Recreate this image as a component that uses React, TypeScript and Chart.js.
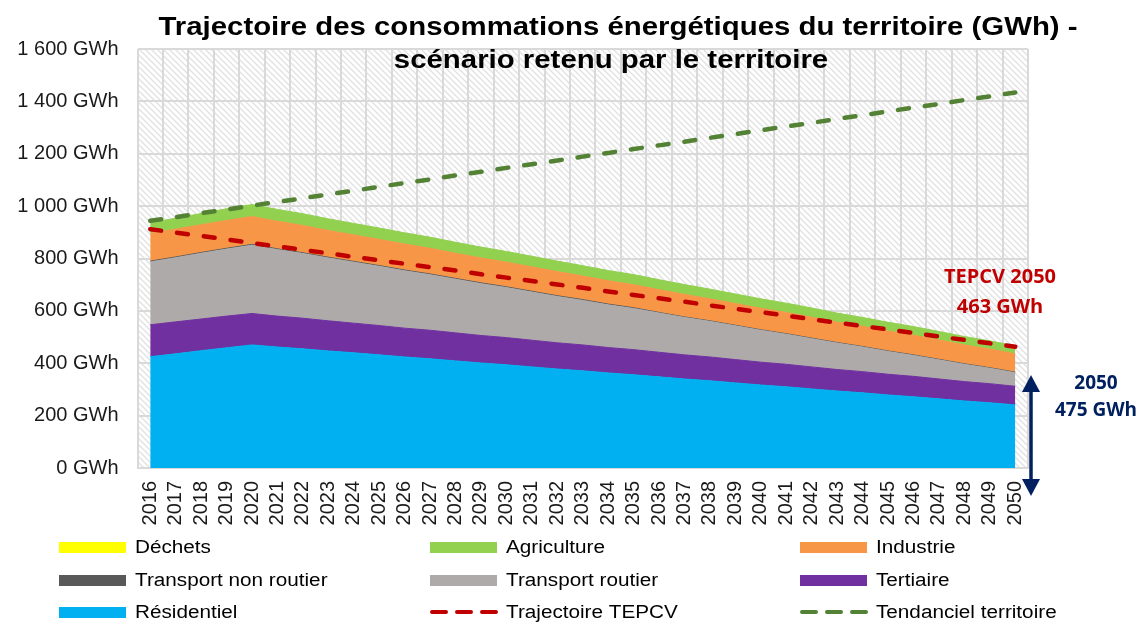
import React, { useEffect, useRef } from 'react';
import { Chart, registerables } from 'chart.js';

Chart.register(...registerables);

const years = ['2016','2017','2018','2019','2020','2021','2022','2023','2024','2025','2026','2027','2028','2029','2030','2031','2032','2033','2034','2035','2036','2037','2038','2039','2040','2041','2042','2043','2044','2045','2046','2047','2048','2049','2050'];

const residentiel = [425,436,448,459,470,462,455,447,440,432,424,417,409,401,394,386,378,371,363,356,348,340,333,325,317,310,302,294,287,279,272,264,256,249,241];
const tertiaire = [122,122,121,121,120,118,117,115,113,112,110,109,107,105,104,102,100,99,97,96,94,92,91,89,87,86,84,82,81,79,78,76,74,73,71];
const transportRoutier = [240,245,251,256,261,254,247,240,233,226,219,212,205,198,191,184,177,170,163,157,150,143,136,129,122,115,108,101,94,87,80,73,66,59,52];
const transportNonRoutier = [3,3,3,3,3,3,3,3,3,3,3,3,3,3,3,3,3,3,3,3,2,2,2,2,2,2,2,2,2,2,2,2,2,2,2];
const industrie = [106,106,106,106,106,105,104,102,101,100,99,98,96,95,94,93,92,90,89,88,87,86,84,83,82,81,80,78,77,76,75,74,72,71,70];
const agriculture = [40,42,43,45,46,45.5,45,44.5,44,43.5,43,42.5,42,41.5,41,40.5,40,39.5,39,38.5,38,37.5,37,36.5,36,35.5,35,34.5,34,33.5,33,32.5,32,31.5,31];
const dechets = [0,0,0,0,0,0,0,0,0,0,0,0,0,0,0,0,0,0,0,0,0,0,0,0,0,0,0,0,0,0,0,0,0,0,0];
const trajectoireTEPCV = [912,899,886,873,859,846,833,820,806,793,780,767,754,740,727,714,701,688,674,661,648,635,621,608,595,582,568,555,542,529,516,502,489,476,463];
const tendanciel = [944,958,973,987,1002,1016,1030,1045,1059,1074,1088,1102,1117,1131,1146,1160,1174,1189,1203,1218,1232,1246,1261,1275,1290,1304,1318,1333,1347,1362,1376,1390,1405,1419,1434];

const titleLines = ['Trajectoire des consommations énergétiques du territoire (GWh) -', 'scénario retenu par le territoire'];
const tepcvNote = ['TEPCV 2050', '463 GWh'];
const totalNote = ['2050', '475 GWh'];

const FONT = '"Liberation Sans", Arial, sans-serif';

function fmt(v: number): string {
  if (v >= 1000) {
    return Math.floor(v / 1000) + ' ' + String(v % 1000).padStart(3, '0') + ' GWh';
  }
  return v + ' GWh';
}

function txt(ctx: CanvasRenderingContext2D, s: string, x: number, y: number, font: string, color: string, align: CanvasTextAlign, sx = 1, baseline: CanvasTextBaseline = 'alphabetic') {
  ctx.save();
  ctx.font = font;
  ctx.fillStyle = color;
  ctx.textAlign = align;
  ctx.textBaseline = baseline;
  ctx.translate(x, y);
  ctx.scale(sx, 1);
  ctx.fillText(s, 0, 0);
  ctx.restore();
}

const customPlugin = {
  id: 'customDecor',
  beforeDraw(chart: any) {
    const { ctx, chartArea: a } = chart;
    ctx.save();
    ctx.fillStyle = '#ffffff';
    ctx.fillRect(0, 0, chart.width, chart.height);
    const p = document.createElement('canvas');
    p.width = 6;
    p.height = 6;
    const pc = p.getContext('2d')!;
    pc.fillStyle = '#ffffff';
    pc.fillRect(0, 0, 6, 6);
    pc.strokeStyle = '#e2e2e2';
    pc.lineWidth = 1.4;
    pc.beginPath();
    pc.moveTo(-1, -1); pc.lineTo(7, 7);
    pc.moveTo(-1, 5); pc.lineTo(1, 7);
    pc.moveTo(5, -1); pc.lineTo(7, 1);
    pc.stroke();
    const pat = ctx.createPattern(p, 'repeat');
    ctx.fillStyle = pat;
    ctx.fillRect(a.left, a.top, a.right - a.left, a.bottom - a.top);
    ctx.restore();
  },
  afterDraw(chart: any) {
    const ctx: CanvasRenderingContext2D = chart.ctx;
    // Title
    txt(ctx, titleLines[0], 618, 35, 'bold 26px ' + FONT, '#000000', 'center', 1.13);
    txt(ctx, titleLines[1], 611, 68, 'bold 26px ' + FONT, '#000000', 'center', 1.13);

    // Legend
    const ds = chart.data.datasets;
    const order = [6, 5, 4, 3, 2, 1, 0, 7, 8];
    const colX = [59, 430, 800];
    const rowY = [547, 580, 612];
    order.forEach((di, k) => {
      const d = ds[di];
      const cx = colX[k % 3];
      const cy = rowY[Math.floor(k / 3)];
      ctx.save();
      if (d.fill === false) {
        ctx.strokeStyle = d.borderColor;
        ctx.lineWidth = 4;
        ctx.lineCap = 'round';
        ctx.beginPath();
        for (let j = 0; j < 3; j++) {
          const sx = cx + 2 + j * 25;
          ctx.moveTo(sx, cy);
          ctx.lineTo(sx + 14, cy);
        }
        ctx.stroke();
      } else {
        ctx.fillStyle = d.backgroundColor;
        ctx.fillRect(cx, cy - 5, 67, 11);
      }
      ctx.restore();
      txt(ctx, d.label, cx + 76, cy + 1, '18px ' + FONT, '#000000', 'left', 1.15, 'middle');
    });

    // Annotations
    const noteFont = 'bold 20px "Open Sans", "DejaVu Sans", sans-serif';
    txt(ctx, tepcvNote[0], 1000, 283, noteFont, '#C00000', 'center');
    txt(ctx, tepcvNote[1], 1000, 313, noteFont, '#C00000', 'center');
    const navyFont = 'bold 19px "Open Sans", "DejaVu Sans", sans-serif';
    txt(ctx, totalNote[0], 1096, 389, navyFont, '#002060', 'center');
    txt(ctx, totalNote[1], 1096, 416, navyFont, '#002060', 'center');

    // Double arrow
    const ax = 1031;
    const top = 375;
    const bot = 496;
    ctx.save();
    ctx.fillStyle = '#002060';
    ctx.strokeStyle = '#002060';
    ctx.lineWidth = 3.5;
    ctx.beginPath();
    ctx.moveTo(ax, top + 12);
    ctx.lineTo(ax, bot - 12);
    ctx.stroke();
    ctx.beginPath();
    ctx.moveTo(ax, top);
    ctx.lineTo(ax + 9, top + 17);
    ctx.lineTo(ax - 9, top + 17);
    ctx.closePath();
    ctx.fill();
    ctx.beginPath();
    ctx.moveTo(ax, bot);
    ctx.lineTo(ax + 9, bot - 17);
    ctx.lineTo(ax - 9, bot - 17);
    ctx.closePath();
    ctx.fill();
    ctx.restore();
  },
};

function area(label: string, data: number[], color: string, fill: string, border?: string) {
  return {
    label,
    data,
    backgroundColor: color,
    borderColor: border || color,
    borderWidth: 1,
    fill,
    stack: 'areas',
    order: 1,
    pointRadius: 0,
    tension: 0,
  };
}

function dashed(label: string, data: number[], color: string, stack: string) {
  return {
    label,
    data,
    borderColor: color,
    backgroundColor: color,
    borderWidth: 4.5,
    borderDash: [11, 16],
    borderCapStyle: 'round',
    fill: false,
    stack,
    order: 0,
    pointRadius: 0,
    tension: 0,
  };
}

export default function App() {
  const ref = useRef<HTMLCanvasElement | null>(null);
  useEffect(() => {
    if (!ref.current) return;
    const chart = new Chart(ref.current, {
      type: 'line',
      data: {
        labels: years,
        datasets: [
          area('Résidentiel', residentiel, '#00B0F0', 'origin'),
          area('Tertiaire', tertiaire, '#7030A0', '-1'),
          area('Transport routier', transportRoutier, '#AEAAAA', '-1'),
          area('Transport non routier', transportNonRoutier, '#595959', '-1'),
          area('Industrie', industrie, '#F79646', '-1'),
          area('Agriculture', agriculture, '#92D050', '-1'),
          area('Déchets', dechets, '#FFFF00', '-1', 'rgba(0,0,0,0)'),
          dashed('Trajectoire TEPCV', trajectoireTEPCV, '#C00000', 'tepcv'),
          dashed('Tendanciel territoire', tendanciel, '#548235', 'tend'),
        ] as any,
      },
      options: {
        responsive: false,
        animation: false,
        layout: { padding: { top: 49, right: 119, bottom: 86, left: 0 } },
        plugins: {
          legend: { display: false },
          tooltip: { enabled: false },
          title: { display: false },
        },
        scales: {
          x: {
            offset: true,
            grid: { offset: true, color: '#d9d9d9', lineWidth: 2, drawTicks: false },
            border: { color: '#d9d9d9', width: 2 },
            ticks: {
              minRotation: 90,
              maxRotation: 90,
              autoSkip: false,
              padding: 13,
              color: '#1a1a1a',
              font: { family: FONT, size: 20 },
            },
            afterFit: (s: any) => { s.height = 70; },
          },
          y: {
            stacked: true,
            min: 0,
            max: 1600,
            ticks: {
              stepSize: 200,
              padding: 19,
              color: '#1a1a1a',
              font: { family: FONT, size: 20 },
              callback: (v: any) => fmt(Number(v)),
            },
            grid: { color: '#d9d9d9', lineWidth: 2, drawTicks: false },
            border: { display: false },
            afterFit: (s: any) => { s.width = 137.5; },
          },
        },
      } as any,
      plugins: [customPlugin],
    });
    return () => chart.destroy();
  }, []);

  return (
    <div style={{ position: 'fixed', left: 0, top: 0, width: 1147, height: 624, background: '#ffffff' }}>
      <canvas ref={ref} width={1147} height={624} style={{ display: 'block' }} />
    </div>
  );
}
